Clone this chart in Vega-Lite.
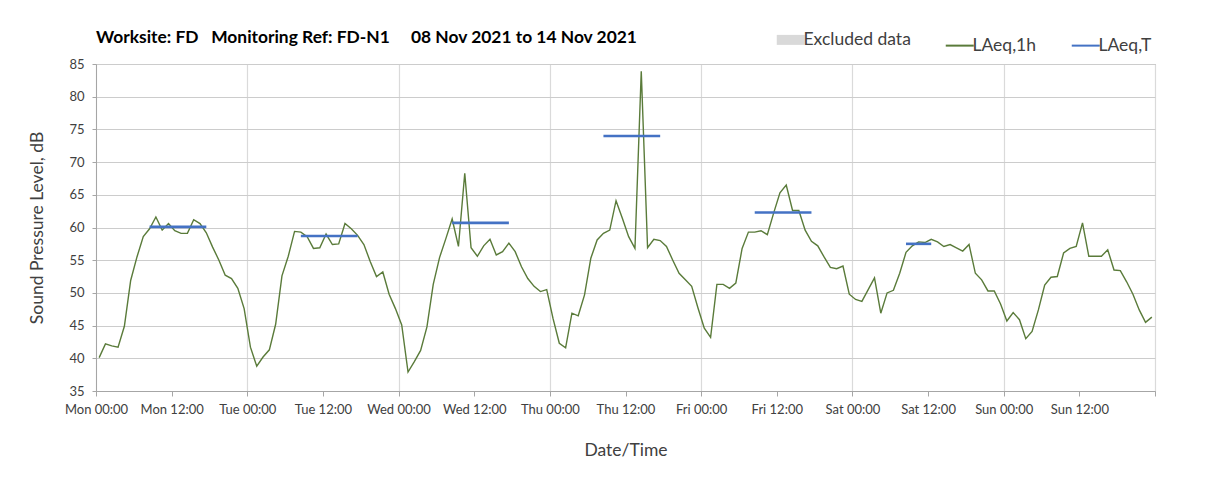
{
  "$schema": "https://vega.github.io/schema/vega-lite/v6.json",
  "width": 1059,
  "height": 327,
  "autosize": {"type": "none"},
  "padding": {"left": 96, "top": 64, "right": 57, "bottom": 94},
  "background": "white",
  "config": {
    "font": "Lato",
    "view": {"stroke": "#a6a6a6", "strokeWidth": 1}
  },
  "title": {
    "text": "Worksite: FD\u00a0\u00a0\u00a0Monitoring Ref: FD-N1\u00a0\u00a0\u00a0\u00a0\u00a008 Nov 2021 to 14 Nov 2021",
    "anchor": "start",
    "frame": "group",
    "font": "Lato",
    "fontSize": 17.4,
    "fontWeight": "bold",
    "color": "#000000",
    "offset": -15
  },
  "layer": [
    {
      "data": {"values": [
        {"t": "2021-11-08T00:30", "v": 40.1}, {"t": "2021-11-08T01:30", "v": 42.2}, {"t": "2021-11-08T02:30", "v": 41.9}, {"t": "2021-11-08T03:30", "v": 41.7},
        {"t": "2021-11-08T04:30", "v": 44.9}, {"t": "2021-11-08T05:30", "v": 51.9}, {"t": "2021-11-08T06:30", "v": 55.5}, {"t": "2021-11-08T07:30", "v": 58.6},
        {"t": "2021-11-08T08:30", "v": 59.8}, {"t": "2021-11-08T09:30", "v": 61.6}, {"t": "2021-11-08T10:30", "v": 59.6}, {"t": "2021-11-08T11:30", "v": 60.6},
        {"t": "2021-11-08T12:30", "v": 59.5}, {"t": "2021-11-08T13:30", "v": 59.1}, {"t": "2021-11-08T14:30", "v": 59.1}, {"t": "2021-11-08T15:30", "v": 61.2},
        {"t": "2021-11-08T16:30", "v": 60.6}, {"t": "2021-11-08T17:30", "v": 59.2}, {"t": "2021-11-08T18:30", "v": 57.0}, {"t": "2021-11-08T19:30", "v": 55.0},
        {"t": "2021-11-08T20:30", "v": 52.7}, {"t": "2021-11-08T21:30", "v": 52.2}, {"t": "2021-11-08T22:30", "v": 50.7}, {"t": "2021-11-08T23:30", "v": 47.6},
        {"t": "2021-11-09T00:30", "v": 41.7}, {"t": "2021-11-09T01:30", "v": 38.8}, {"t": "2021-11-09T02:30", "v": 40.2}, {"t": "2021-11-09T03:30", "v": 41.3},
        {"t": "2021-11-09T04:30", "v": 45.2}, {"t": "2021-11-09T05:30", "v": 52.6}, {"t": "2021-11-09T06:30", "v": 55.6}, {"t": "2021-11-09T07:30", "v": 59.4},
        {"t": "2021-11-09T08:30", "v": 59.3}, {"t": "2021-11-09T09:30", "v": 58.6}, {"t": "2021-11-09T10:30", "v": 56.8}, {"t": "2021-11-09T11:30", "v": 56.9},
        {"t": "2021-11-09T12:30", "v": 59.0}, {"t": "2021-11-09T13:30", "v": 57.4}, {"t": "2021-11-09T14:30", "v": 57.5}, {"t": "2021-11-09T15:30", "v": 60.6},
        {"t": "2021-11-09T16:30", "v": 59.8}, {"t": "2021-11-09T17:30", "v": 58.8}, {"t": "2021-11-09T18:30", "v": 57.4}, {"t": "2021-11-09T19:30", "v": 54.8},
        {"t": "2021-11-09T20:30", "v": 52.5}, {"t": "2021-11-09T21:30", "v": 53.2}, {"t": "2021-11-09T22:30", "v": 49.8}, {"t": "2021-11-09T23:30", "v": 47.6},
        {"t": "2021-11-10T00:30", "v": 45.1}, {"t": "2021-11-10T01:30", "v": 37.9}, {"t": "2021-11-10T02:30", "v": 39.5}, {"t": "2021-11-10T03:30", "v": 41.2},
        {"t": "2021-11-10T04:30", "v": 44.8}, {"t": "2021-11-10T05:30", "v": 51.3}, {"t": "2021-11-10T06:30", "v": 55.4}, {"t": "2021-11-10T07:30", "v": 58.3},
        {"t": "2021-11-10T08:30", "v": 61.3}, {"t": "2021-11-10T09:30", "v": 57.1}, {"t": "2021-11-10T10:30", "v": 68.3}, {"t": "2021-11-10T11:30", "v": 56.9},
        {"t": "2021-11-10T12:30", "v": 55.6}, {"t": "2021-11-10T13:30", "v": 57.2}, {"t": "2021-11-10T14:30", "v": 58.2}, {"t": "2021-11-10T15:30", "v": 55.8},
        {"t": "2021-11-10T16:30", "v": 56.3}, {"t": "2021-11-10T17:30", "v": 57.6}, {"t": "2021-11-10T18:30", "v": 56.3}, {"t": "2021-11-10T19:30", "v": 54.0},
        {"t": "2021-11-10T20:30", "v": 52.2}, {"t": "2021-11-10T21:30", "v": 51.0}, {"t": "2021-11-10T22:30", "v": 50.2}, {"t": "2021-11-10T23:30", "v": 50.5},
        {"t": "2021-11-11T00:30", "v": 46.1}, {"t": "2021-11-11T01:30", "v": 42.3}, {"t": "2021-11-11T02:30", "v": 41.6}, {"t": "2021-11-11T03:30", "v": 46.9},
        {"t": "2021-11-11T04:30", "v": 46.5}, {"t": "2021-11-11T05:30", "v": 49.7}, {"t": "2021-11-11T06:30", "v": 55.3}, {"t": "2021-11-11T07:30", "v": 58.1},
        {"t": "2021-11-11T08:30", "v": 59.1}, {"t": "2021-11-11T09:30", "v": 59.6}, {"t": "2021-11-11T10:30", "v": 64.1}, {"t": "2021-11-11T11:30", "v": 61.4},
        {"t": "2021-11-11T12:30", "v": 58.6}, {"t": "2021-11-11T13:30", "v": 56.8}, {"t": "2021-11-11T14:30", "v": 83.9}, {"t": "2021-11-11T15:30", "v": 56.9},
        {"t": "2021-11-11T16:30", "v": 58.2}, {"t": "2021-11-11T17:30", "v": 58.0}, {"t": "2021-11-11T18:30", "v": 57.1}, {"t": "2021-11-11T19:30", "v": 55.0},
        {"t": "2021-11-11T20:30", "v": 53.0}, {"t": "2021-11-11T21:30", "v": 52.0}, {"t": "2021-11-11T22:30", "v": 51.0}, {"t": "2021-11-11T23:30", "v": 47.7},
        {"t": "2021-11-12T00:30", "v": 44.6}, {"t": "2021-11-12T01:30", "v": 43.2}, {"t": "2021-11-12T02:30", "v": 51.3}, {"t": "2021-11-12T03:30", "v": 51.3},
        {"t": "2021-11-12T04:30", "v": 50.7}, {"t": "2021-11-12T05:30", "v": 51.5}, {"t": "2021-11-12T06:30", "v": 56.8}, {"t": "2021-11-12T07:30", "v": 59.3},
        {"t": "2021-11-12T08:30", "v": 59.3}, {"t": "2021-11-12T09:30", "v": 59.5}, {"t": "2021-11-12T10:30", "v": 58.9}, {"t": "2021-11-12T11:30", "v": 62.2},
        {"t": "2021-11-12T12:30", "v": 65.3}, {"t": "2021-11-12T13:30", "v": 66.5}, {"t": "2021-11-12T14:30", "v": 62.6}, {"t": "2021-11-12T15:30", "v": 62.6},
        {"t": "2021-11-12T16:30", "v": 59.6}, {"t": "2021-11-12T17:30", "v": 57.9}, {"t": "2021-11-12T18:30", "v": 57.2}, {"t": "2021-11-12T19:30", "v": 55.5},
        {"t": "2021-11-12T20:30", "v": 53.9}, {"t": "2021-11-12T21:30", "v": 53.7}, {"t": "2021-11-12T22:30", "v": 54.1}, {"t": "2021-11-12T23:30", "v": 49.8},
        {"t": "2021-11-13T00:30", "v": 49.0}, {"t": "2021-11-13T01:30", "v": 48.7}, {"t": "2021-11-13T02:30", "v": 50.5}, {"t": "2021-11-13T03:30", "v": 52.3},
        {"t": "2021-11-13T04:30", "v": 46.9}, {"t": "2021-11-13T05:30", "v": 50.0}, {"t": "2021-11-13T06:30", "v": 50.4}, {"t": "2021-11-13T07:30", "v": 53.0},
        {"t": "2021-11-13T08:30", "v": 56.2}, {"t": "2021-11-13T09:30", "v": 57.2}, {"t": "2021-11-13T10:30", "v": 57.8}, {"t": "2021-11-13T11:30", "v": 57.7},
        {"t": "2021-11-13T12:30", "v": 58.2}, {"t": "2021-11-13T13:30", "v": 57.8}, {"t": "2021-11-13T14:30", "v": 57.1}, {"t": "2021-11-13T15:30", "v": 57.4},
        {"t": "2021-11-13T16:30", "v": 56.9}, {"t": "2021-11-13T17:30", "v": 56.4}, {"t": "2021-11-13T18:30", "v": 57.4}, {"t": "2021-11-13T19:30", "v": 53.0},
        {"t": "2021-11-13T20:30", "v": 52.0}, {"t": "2021-11-13T21:30", "v": 50.3}, {"t": "2021-11-13T22:30", "v": 50.3}, {"t": "2021-11-13T23:30", "v": 48.3},
        {"t": "2021-11-14T00:30", "v": 45.7}, {"t": "2021-11-14T01:30", "v": 47.0}, {"t": "2021-11-14T02:30", "v": 45.9}, {"t": "2021-11-14T03:30", "v": 43.0},
        {"t": "2021-11-14T04:30", "v": 44.1}, {"t": "2021-11-14T05:30", "v": 47.4}, {"t": "2021-11-14T06:30", "v": 51.2}, {"t": "2021-11-14T07:30", "v": 52.4},
        {"t": "2021-11-14T08:30", "v": 52.5}, {"t": "2021-11-14T09:30", "v": 56.1}, {"t": "2021-11-14T10:30", "v": 56.8}, {"t": "2021-11-14T11:30", "v": 57.1},
        {"t": "2021-11-14T12:30", "v": 60.7}, {"t": "2021-11-14T13:30", "v": 55.6}, {"t": "2021-11-14T14:30", "v": 55.6}, {"t": "2021-11-14T15:30", "v": 55.6},
        {"t": "2021-11-14T16:30", "v": 56.6}, {"t": "2021-11-14T17:30", "v": 53.5}, {"t": "2021-11-14T18:30", "v": 53.4}, {"t": "2021-11-14T19:30", "v": 51.7},
        {"t": "2021-11-14T20:30", "v": 49.8}, {"t": "2021-11-14T21:30", "v": 47.4}, {"t": "2021-11-14T22:30", "v": 45.5}, {"t": "2021-11-14T23:30", "v": 46.3}
      ]},
      "mark": {"type": "line", "strokeWidth": 1.4},
      "encoding": {
        "x": {
          "field": "t",
          "type": "temporal",
          "title": "Date/Time",
          "scale": {"domain": [{"year": 2021, "month": 11, "date": 8}, {"year": 2021, "month": 11, "date": 15}]},
          "axis": {
            "values": [
              {"year": 2021, "month": 11, "date": 8, "hours": 0}, {"year": 2021, "month": 11, "date": 8, "hours": 12},
              {"year": 2021, "month": 11, "date": 9, "hours": 0}, {"year": 2021, "month": 11, "date": 9, "hours": 12},
              {"year": 2021, "month": 11, "date": 10, "hours": 0}, {"year": 2021, "month": 11, "date": 10, "hours": 12},
              {"year": 2021, "month": 11, "date": 11, "hours": 0}, {"year": 2021, "month": 11, "date": 11, "hours": 12},
              {"year": 2021, "month": 11, "date": 12, "hours": 0}, {"year": 2021, "month": 11, "date": 12, "hours": 12},
              {"year": 2021, "month": 11, "date": 13, "hours": 0}, {"year": 2021, "month": 11, "date": 13, "hours": 12},
              {"year": 2021, "month": 11, "date": 14, "hours": 0}, {"year": 2021, "month": 11, "date": 14, "hours": 12},
              {"year": 2021, "month": 11, "date": 15, "hours": 0}
            ],
            "tickCount": 30,
            "labelExpr": "datum.value >= datetime(2021, 10, 15) ? '' : timeFormat(datum.value, '%a %H:%M')",
            "labelFont": "Lato",
            "labelFontSize": 13,
            "labelColor": "#404040",
            "labelPadding": 7,
            "labelOverlap": false,
            "labelFlush": false,
            "tickSize": 5,
            "tickColor": "#a6a6a6",
            "domainColor": "#a6a6a6",
            "titleFont": "Lato",
            "titleFontSize": 17.5,
            "titleFontWeight": "normal",
            "titleColor": "#404040",
            "titlePadding": 25,
            "gridColor": "#dadada",
            "gridWidth": 1.2,
            "gridOpacity": {"condition": {"test": "hours(datum.value) == 0", "value": 1}, "value": 0}
          }
        },
        "y": {
          "field": "v",
          "type": "quantitative",
          "title": "Sound Pressure Level, dB",
          "scale": {"domain": [35, 85], "nice": false, "zero": false},
          "axis": {
            "values": [35, 40, 45, 50, 55, 60, 65, 70, 75, 80, 85],
            "tickCount": 12,
            "labelOverlap": false,
            "labelFont": "Lato",
            "labelFontSize": 13,
            "labelColor": "#404040",
            "labelPadding": 8,
            "tickSize": 4,
            "tickColor": "#a6a6a6",
            "domainColor": "#a6a6a6",
            "titleFont": "Lato",
            "titleFontSize": 17.5,
            "titleFontWeight": "normal",
            "titleColor": "#404040",
            "titlePadding": 22,
            "gridColor": "#cccccc",
            "gridWidth": 1.2
          }
        },
        "color": {
          "datum": "LAeq,1h",
          "type": "nominal",
          "scale": {"domain": ["Excluded data", "LAeq,1h", "LAeq,T"], "range": ["#d9d9d9", "#5a7b3a", "#4472c4"]},
          "legend": {
            "title": null,
            "orient": "none",
            "direction": "horizontal",
            "legendX": 686,
            "legendY": -33,
            "labelFont": "Lato",
            "labelFontSize": 17.5,
            "labelColor": "#404040",
            "labelOffset": 4,
            "columnPadding": 30,
            "symbolSize": 784,
            "symbolStrokeWidth": 2,
            "symbolType": "stroke",
            "encode": {
              "symbols": {
                "update": {
                  "strokeWidth": {"signal": "datum.label === 'Excluded data' ? 10 : 2"}
                }
              }
            }
          }
        }
      }
    },
    {
      "data": {"values": [
        {"start": "2021-11-08T08:30", "end": "2021-11-08T17:30", "v": 60.1},
        {"start": "2021-11-09T08:30", "end": "2021-11-09T17:30", "v": 58.7},
        {"start": "2021-11-10T08:30", "end": "2021-11-10T17:30", "v": 60.7},
        {"start": "2021-11-11T08:30", "end": "2021-11-11T17:30", "v": 74.0},
        {"start": "2021-11-12T08:30", "end": "2021-11-12T17:30", "v": 62.3},
        {"start": "2021-11-13T08:30", "end": "2021-11-13T12:30", "v": 57.5}
      ]},
      "mark": {"type": "rule", "strokeWidth": 2.6},
      "encoding": {
        "x": {"field": "start", "type": "temporal", "title": "Date/Time"},
        "x2": {"field": "end"},
        "y": {"field": "v", "type": "quantitative", "title": "Sound Pressure Level, dB"},
        "color": {"datum": "LAeq,T", "type": "nominal"}
      }
    }
  ]
}
